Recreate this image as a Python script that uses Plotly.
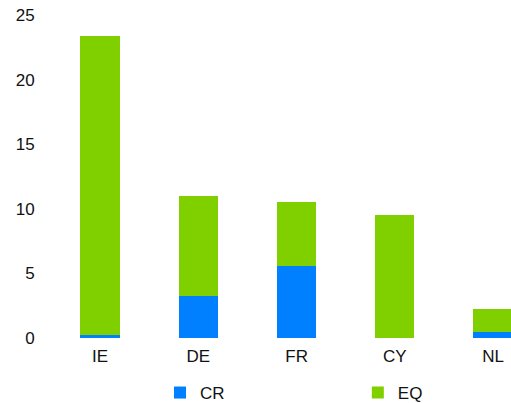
import plotly.graph_objects as go

categories = ["IE", "DE", "FR", "CY", "NL"]
cr_values = [0.25, 3.25, 5.55, 0.0, 0.45]
eq_values = [23.15, 7.75, 4.95, 9.5, 1.8]

fig = go.Figure()
fig.add_trace(go.Bar(x=categories, y=cr_values, name="CR", marker_color="#0080FF",
                     marker_line_width=0, legend="legend"))
fig.add_trace(go.Bar(x=categories, y=eq_values, name="EQ", marker_color="#80D000",
                     marker_line_width=0, legend="legend2"))

leg_common = dict(orientation="h", xanchor="left", yref="container", y=0.0695,
                  yanchor="top", itemclick=False, font=dict(size=17),
                  bgcolor="rgba(0,0,0,0)")

fig.update_layout(
    barmode="stack",
    bargap=0.6,
    width=511, height=403,
    margin=dict(l=51, r=0, t=15, b=65),
    plot_bgcolor="white", paper_bgcolor="white",
    font=dict(family="Liberation Sans, Arial, sans-serif", size=17, color="#111111"),
    showlegend=True,
    legend=dict(x=0.237, **leg_common),
    legend2=dict(x=0.667, **leg_common),
)
fig.update_xaxes(range=[-0.5, 4.183], showline=False, showgrid=False, ticks="outside",
                 ticklen=3, tickcolor="white", zeroline=False)
fig.update_yaxes(range=[0, 25], tickvals=[0, 5, 10, 15, 20, 25], showgrid=False,
                 showline=False, zeroline=False, ticks="outside", ticklen=12,
                 tickcolor="white")
fig.write_html("out.html", config={"displayModeBar": False},
               post_script="document.body.style.margin='0';")
